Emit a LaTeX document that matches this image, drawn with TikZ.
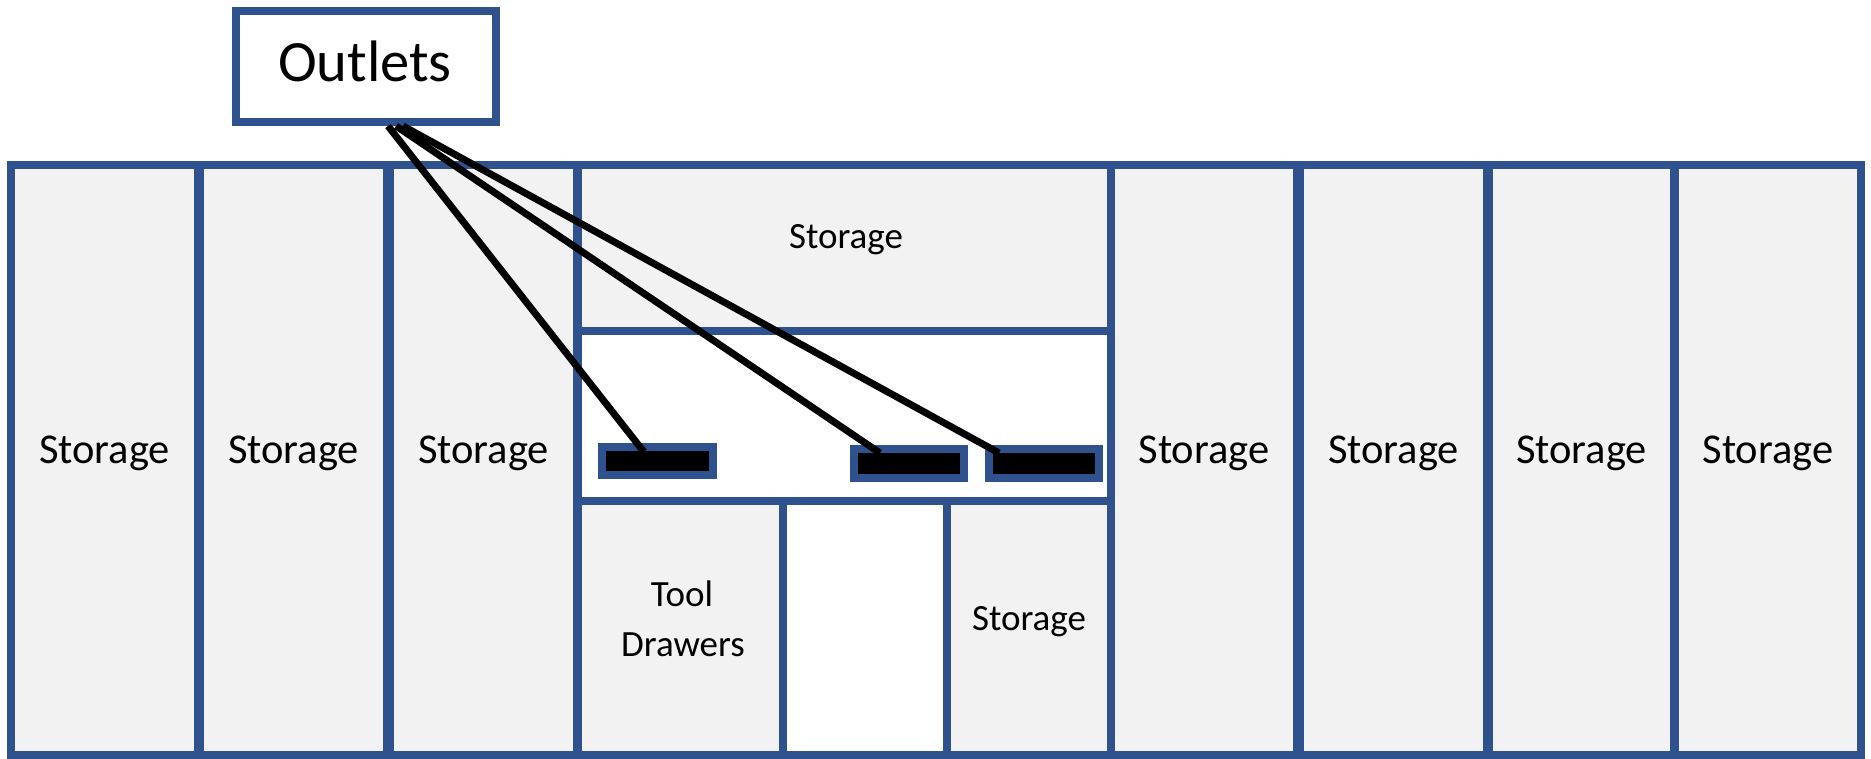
\documentclass[tikz,border=0pt]{standalone}
\usepackage{fontspec}
\setmainfont{Carlito}
\definecolor{bblue}{HTML}{2F528F}
\definecolor{lgray}{HTML}{F2F2F2}
\tikzset{
  box/.style={rectangle, draw=bblue, line width=8pt, fill=lgray, inner sep=0pt, outer sep=0pt},
  wbox/.style={box, fill=white},
  outlet/.style={rectangle, draw=bblue, line width=8pt, fill=black, inner sep=0pt, outer sep=0pt},
  bigtxt/.style={anchor=base, inner sep=0pt, font=\fontsize{42.5}{50}\selectfont},
  midtxt/.style={anchor=base, inner sep=0pt, font=\fontsize{37}{44}\selectfont},
  conn/.style={draw=black, line width=7pt}
}
\begin{document}
\begin{tikzpicture}[x=1pt, y=-1pt]
\useasboundingbox (0,0) rectangle (1871,759);
% storage columns
\node[box, minimum width=187, minimum height=590] (c1) at (104.5,460) {};
\node[box, minimum width=187, minimum height=590] (c2) at (293.5,460) {};
\node[box, minimum width=187, minimum height=590] (c3) at (483.5,460) {};
\node[box, minimum width=186, minimum height=590] (c5) at (1204,460) {};
\node[box, minimum width=187, minimum height=590] (c6) at (1393.5,460) {};
\node[box, minimum width=185, minimum height=590] (c7) at (1581.5,460) {};
\node[box, minimum width=186, minimum height=590] (c8) at (1768,460) {};
% centre section
\node[box, minimum width=533, minimum height=165.5] (top) at (844.5,247.75) {};
\node[wbox, minimum width=533, minimum height=170.5] (mid) at (844.5,415.75) {};
\node[box, minimum width=205, minimum height=254] (tool) at (680.5,628) {};
\node[wbox, minimum width=164, minimum height=254] (gap) at (865,628) {};
\node[box, minimum width=164, minimum height=254] (bst) at (1029,628) {};
% outlets
\node[outlet, minimum width=111, minimum height=28] (o1) at (657.5,461) {};
\node[outlet, minimum width=110, minimum height=29] (o2) at (909,463.5) {};
\node[outlet, minimum width=110, minimum height=29] (o3) at (1044,463.5) {};
% label box
\node[wbox, minimum width=260, minimum height=111] (outlets) at (366,66.5) {};
\node[anchor=base, inner sep=0pt, font=\fontsize{58.5}{70}\selectfont] (outt) at (365,82) {Outlets};
% texts
\node[bigtxt] (t1) at (104.5,463) {Storage};
\node[bigtxt] (t2) at (293.5,463) {Storage};
\node[bigtxt] (t3) at (483.5,463) {Storage};
\node[bigtxt] (t5) at (1204,463) {Storage};
\node[bigtxt] (t6) at (1393.5,463) {Storage};
\node[bigtxt] (t7) at (1581.5,463) {Storage};
\node[bigtxt] (t8) at (1768,463) {Storage};
\node[midtxt] (ttop) at (846,249) {Storage};
\node[midtxt] (ttool) at (682,606) {Tool};
\node[midtxt] (tdraw) at (683,656) {Drawers};
\node[midtxt] (tbst) at (1029,630) {Storage};
% connectors
\draw[conn] ([xshift=22pt,yshift=-4pt]outlets.south) -- ([xshift=-13.5pt,yshift=-5pt]o1.north);
\draw[conn] ([xshift=30pt,yshift=-4pt]outlets.south) -- ([xshift=-29pt,yshift=-4pt]o2.north);
\draw[conn] ([xshift=37pt,yshift=-4pt]outlets.south) -- ([xshift=-45pt,yshift=-4pt]o3.north);
\end{tikzpicture}
\end{document}
